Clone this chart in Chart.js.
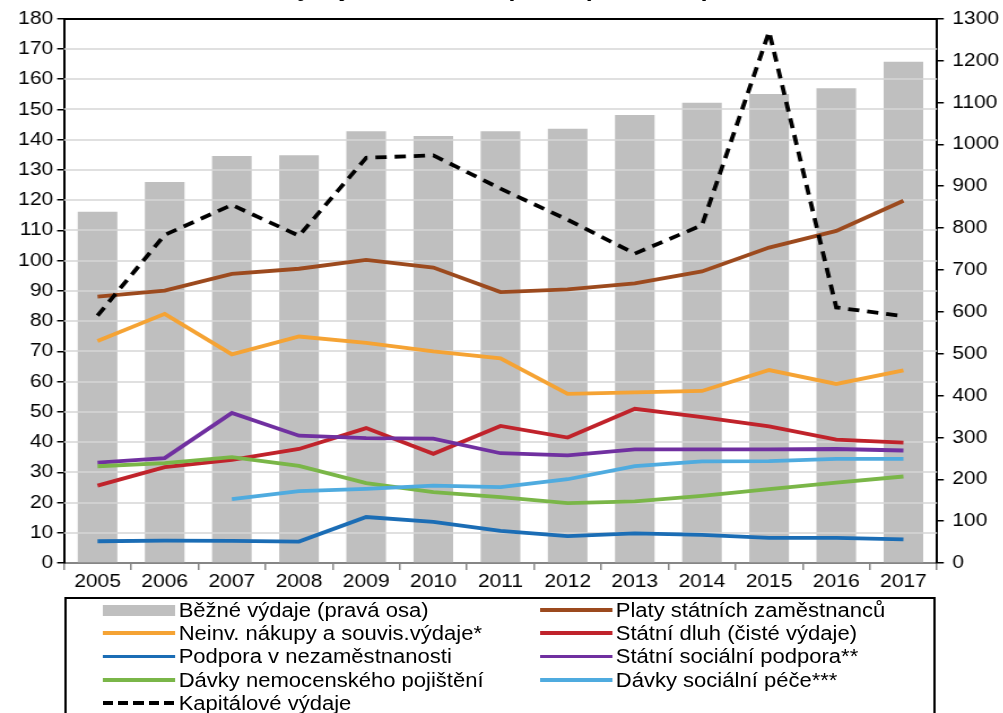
<!DOCTYPE html>
<html>
<head>
<meta charset="utf-8">
<script src="https://cdn.jsdelivr.net/npm/chart.js@4/dist/chart.umd.min.js"></script>
<style>
  html, body { margin: 0; padding: 0; background: #fff; overflow: hidden; }
  body { width: 1003px; height: 713px; position: relative; }
  #wrap { position: absolute; left: 0; top: 0; width: 888px; height: 713px;
          transform: scaleX(1.13); transform-origin: 0 0; }
  #title { position: absolute; top: -22px; white-space: nowrap;
           font: bold 22px "Liberation Sans", Arial, sans-serif; color: #000; line-height: 22px; }
  #chart { position: absolute; left: 0; top: 0; }
  #legend { position: absolute; left: 56.6px; top: 597px; width: 771px; height: 140px;
            border: 2px solid #000; box-sizing: border-box;
            font: 19.5px "Liberation Sans", Arial, sans-serif; color: #000; }
  .item { position: absolute; height: 22px; display: flex; align-items: center; white-space: nowrap; }
  .sw { width: 64px; margin-right: 3px; flex: none; }
</style>
</head>
<body>
<div id="wrap">
  <div id="title">Hlavní výdaje státního rozpočtu (v mld. Kč)</div>
  <canvas id="chart" width="888" height="598"></canvas>
  <div id="legend"></div>
</div>
<script>
const years = ['2005','2006','2007','2008','2009','2010','2011','2012','2013','2014','2015','2016','2017'];
const bezneVydaje = [839, 910, 972, 974, 1031, 1020, 1031, 1037, 1070, 1099, 1120, 1134, 1197];
const platy = [88.1, 90.1, 95.6, 97.3, 100.2, 97.7, 89.6, 90.5, 92.5, 96.4, 104.3, 109.8, 119.8];
const neinvNakupy = [73.4, 82.4, 69.0, 74.9, 72.8, 70.0, 67.7, 55.9, 56.4, 56.9, 63.8, 59.2, 63.7];
const statniDluh = [25.6, 31.7, 34.1, 37.7, 44.6, 36.1, 45.3, 41.5, 51.0, 48.2, 45.2, 40.8, 39.8];
const podporaNezam = [7.2, 7.4, 7.3, 7.1, 15.2, 13.6, 10.6, 8.9, 9.8, 9.3, 8.3, 8.3, 7.8];
const statniSocPodpora = [33.2, 34.7, 49.6, 42.1, 41.3, 41.1, 36.3, 35.6, 37.6, 37.6, 37.6, 37.7, 37.2];
const davkyNemoc = [32.0, 33.0, 35.0, 32.1, 26.4, 23.4, 21.8, 19.8, 20.4, 22.2, 24.4, 26.6, 28.6];
const davkySocPece = [null, null, 21.1, 23.8, 24.5, 25.6, 25.1, 27.7, 32.0, 33.6, 33.7, 34.4, 34.4];
const kapitalove = [81.8, 108.5, 118.4, 108.2, 134.0, 134.8, 123.8, 113.5, 102.3, 111.7, 175.7, 84.5, 81.6];
const leftMax = 180, leftStep = 10;
const rightMax = 1300, rightStep = 100;

const FONT = { family: '"Liberation Sans", Arial, sans-serif', size: 18.6 };

function line(label, data, color, order, dash) {
  return { type: 'line', label, data, borderColor: color, backgroundColor: color,
    borderWidth: 3.8, pointRadius: 0, tension: 0, yAxisID: 'y', order,
    borderDash: dash || [], spanGaps: false, borderCapStyle: 'butt' };
}

const datasets = [
  { type: 'bar', label: 'Běžné výdaje (pravá osa)', data: bezneVydaje, backgroundColor: '#bfbfbf',
    yAxisID: 'y1', order: 20, categoryPercentage: 1, barPercentage: 0.59 },
  line('Platy státních zaměstnanců', platy, '#9C4A1E', 9),
  line('Neinv. nákupy a souvis.výdaje*', neinvNakupy, '#F5A334', 8),
  line('Státní dluh (čisté výdaje)', statniDluh, '#C0232B', 7),
  line('Podpora v nezaměstnanosti', podporaNezam, '#1B6DB5', 6),
  line('Státní sociální podpora**', statniSocPodpora, '#7030A0', 5),
  line('Dávky nemocenského pojištění', davkyNemoc, '#7AB648', 4),
  line('Dávky sociální péče***', davkySocPece, '#4FABDF', 3),
  line('Kapitálové výdaje', kapitalove, '#000000', 1, [10, 7])
];

const gridOverBars = {
  id: 'gridOverBars',
  afterDatasetDraw(chart, args) {
    if (args.index !== 0) return;
    const { ctx, chartArea } = chart;
    const y = chart.scales.y;
    ctx.save();
    y.ticks.forEach(t => {
      if (t.value === 0) return;
      const py = Math.round(y.getPixelForValue(t.value));
      ctx.beginPath();
      ctx.lineWidth = t.value === leftMax ? 2 : 1.6;
      ctx.strokeStyle = t.value === leftMax ? '#000' : '#d6d6d6';
      ctx.moveTo(chartArea.left, py);
      ctx.lineTo(chartArea.right, py);
      ctx.stroke();
    });
    ctx.restore();
  }
};

const plain = v => String(v);

const chart = new Chart(document.getElementById('chart'), {
  data: { labels: years, datasets },
  plugins: [gridOverBars],
  options: {
    responsive: false,
    animation: false,
    devicePixelRatio: 1,
    layout: { padding: { top: 16, left: 0, right: 0, bottom: 0 } },
    plugins: { legend: { display: false }, tooltip: { enabled: false }, title: { display: false } },
    scales: {
      x: {
        type: 'category',
        offset: true,
        grid: { offset: true, drawOnChartArea: false, drawTicks: true, tickLength: 7, color: '#868686', lineWidth: 1.5 },
        border: { display: true, color: '#868686', width: 2 },
        ticks: { color: '#000', font: FONT, padding: 1, maxRotation: 0, autoSkip: false },
        afterFit(s) { s.height = 35; }
      },
      y: {
        position: 'left', min: 0, max: leftMax,
        ticks: { stepSize: leftStep, color: '#000', font: FONT, padding: 3.5, callback: plain },
        grid: { drawOnChartArea: false, drawTicks: true, tickLength: 6, color: '#000', lineWidth: 1.5 },
        border: { display: true, color: '#000', width: 2 },
        afterFit(s) { s.width = 56.6; }
      },
      y1: {
        position: 'right', min: 0, max: rightMax,
        ticks: { stepSize: rightStep, color: '#000', font: FONT, padding: 7.5, callback: plain },
        grid: { drawOnChartArea: false, drawTicks: true, tickLength: 6, color: '#000', lineWidth: 1.5 },
        border: { display: true, color: '#000', width: 2 },
        afterFit(s) { s.width = 58.8; }
      }
    }
  }
});

// legend built from datasets
const legend = document.getElementById('legend');
const colX = [32.5, 419.3];
const rowY = [0, 23.3, 46.6, 70, 93.3];
chart.data.datasets.forEach((ds, i) => {
  const item = document.createElement('div');
  item.className = 'item';
  item.style.left = colX[i % 2] + 'px';
  item.style.top = rowY[Math.floor(i / 2)] + 'px';
  const sw = document.createElement('div');
  sw.className = 'sw';
  if (ds.type === 'bar') {
    sw.style.height = '11px';
    sw.style.background = ds.backgroundColor;
  } else if (ds.borderDash && ds.borderDash.length) {
    sw.style.height = '4px';
    sw.style.background = 'repeating-linear-gradient(to right, ' + ds.borderColor + ' 0 9px, transparent 9px 13.5px)';
  } else {
    sw.style.height = '3.8px';
    sw.style.background = ds.borderColor;
  }
  const tx = document.createElement('span');
  tx.textContent = ds.label;
  item.appendChild(sw);
  item.appendChild(tx);
  legend.appendChild(item);
});

// title position: place "ý" near its reference spot
const title = document.getElementById('title');
const mctx = document.createElement('canvas').getContext('2d');
mctx.font = 'bold 22px "Liberation Sans", Arial, sans-serif';
const pre = mctx.measureText('Hlavní v').width;
title.style.left = (263 - pre) + 'px';
</script>
</body>
</html>
